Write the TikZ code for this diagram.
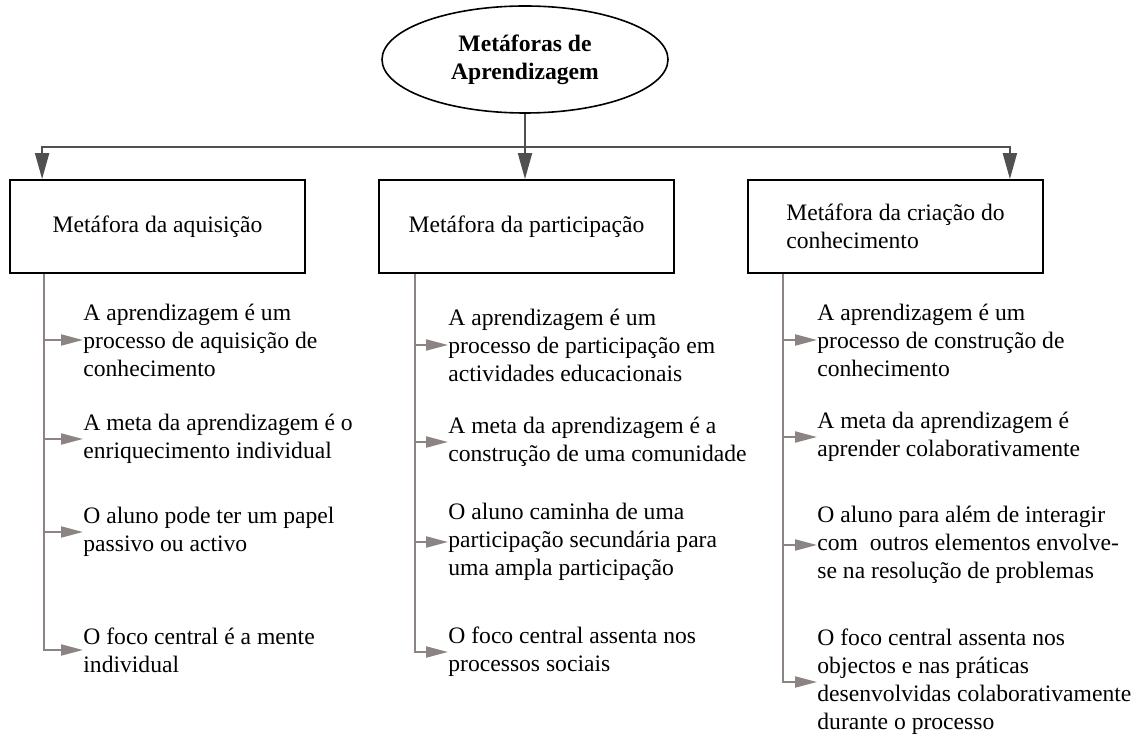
\documentclass[tikz,border=0pt]{standalone}
\usepackage{fontspec}
\setmainfont{Liberation Serif}
\usetikzlibrary{arrows.meta, positioning, shapes.geometric}

\definecolor{hubgray}{HTML}{505050}
\definecolor{trunkgray}{HTML}{8C8383}

\begin{document}
\begin{tikzpicture}[
    x=0.5pt, y=-0.5pt,
    font=\fontsize{11.8}{14}\selectfont,
    box/.style={rectangle, draw, line width=0.9pt, minimum width=147.5pt, minimum height=46.5pt, align=left},
    item/.style={anchor=west, inner sep=0pt, align=left},
    down/.style={-{Triangle[length=13pt, width=7pt]}, hubgray, line width=1pt},
    branch/.style={-{Triangle[length=11pt, width=5.5pt]}, trunkgray, line width=1pt},
]

    \useasboundingbox (0,0) rectangle (1139,737);

    \node[ellipse, draw, line width=0.8pt, minimum width=143pt, minimum height=53.5pt, align=center, font=\fontsize{11.8}{14}\selectfont\bfseries] (root) at (525,59.5) {Metáforas de\\Aprendizagem};

    \node[box] (boxA) at (157.5,226.5) {Metáfora da aquisição};
    \node[box] (boxB) at (526.5,226.5) {Metáfora da participação};
    \node[box] (boxC) at (895.5,226.5) {Metáfora da criação do\\conhecimento};

    % aquisição
    \node[item] (a1) at (83,340) {A aprendizagem é um\\processo de aquisição de\\conhecimento};
    \node[item] (a2) at (83,439) {A meta da aprendizagem é o\\enriquecimento individual};
    \node[item] (a3) at (83,532) {O aluno pode ter um papel\\passivo ou activo};
    \node[item] (a4) at (83,650) {O foco central é a mente\\individual};

    % participação
    \node[item] (b1) at (448,345) {A aprendizagem é um\\processo de participação em\\actividades educacionais};
    \node[item] (b2) at (448,442) {A meta da aprendizagem é a\\construção de uma comunidade};
    \node[item] (b3) at (448,542) {O aluno caminha de uma\\participação secundária para\\uma ampla participação};
    \node[item] (b4) at (448,652) {O foco central assenta nos\\processos sociais};

    % criação do conhecimento
    \node[item] (c1) at (817,340) {A aprendizagem é um\\processo de construção de\\conhecimento};
    \node[item] (c2) at (817,437) {A meta da aprendizagem é\\aprender colaborativamente};
    \node[item] (c3) at (817,545) {O aluno para além de interagir\\com~ outros elementos envolve-\\se na resolução de problemas};
    \node[item] (c4) at (817,682) {O foco central assenta nos\\objectos e nas práticas\\desenvolvidas colaborativamente\\durante o processo};

    \coordinate (hub) at (root.south |- 0,147);
    \coordinate (tA) at ([xshift=17.5pt]boxA.south west);
    \coordinate (tB) at ([xshift=18.5pt]boxB.south west);
    \coordinate (tC) at ([xshift=18pt]boxC.south west);

    \draw[hubgray, line width=1pt] (root.south) -- (hub);
    \draw[down] (hub) -- (hub |- boxB.north);
    \draw[down] (hub) -| ([xshift=16.5pt]boxA.north west);
    \draw[down] (hub) -| ([xshift=-17pt]boxC.north east);

    \draw[branch] (tA) |- (a4.west);
    \draw[branch] (tA |- a1.west) -- (a1.west);
    \draw[branch] (tA |- a2.west) -- (a2.west);
    \draw[branch] (tA |- a3.west) -- (a3.west);

    \draw[branch] (tB) |- (b4.west);
    \draw[branch] (tB |- b1.west) -- (b1.west);
    \draw[branch] (tB |- b2.west) -- (b2.west);
    \draw[branch] (tB |- b3.west) -- (b3.west);

    \draw[branch] (tC) |- (c4.west);
    \draw[branch] (tC |- c1.west) -- (c1.west);
    \draw[branch] (tC |- c2.west) -- (c2.west);
    \draw[branch] (tC |- c3.west) -- (c3.west);
\end{tikzpicture}
\end{document}
